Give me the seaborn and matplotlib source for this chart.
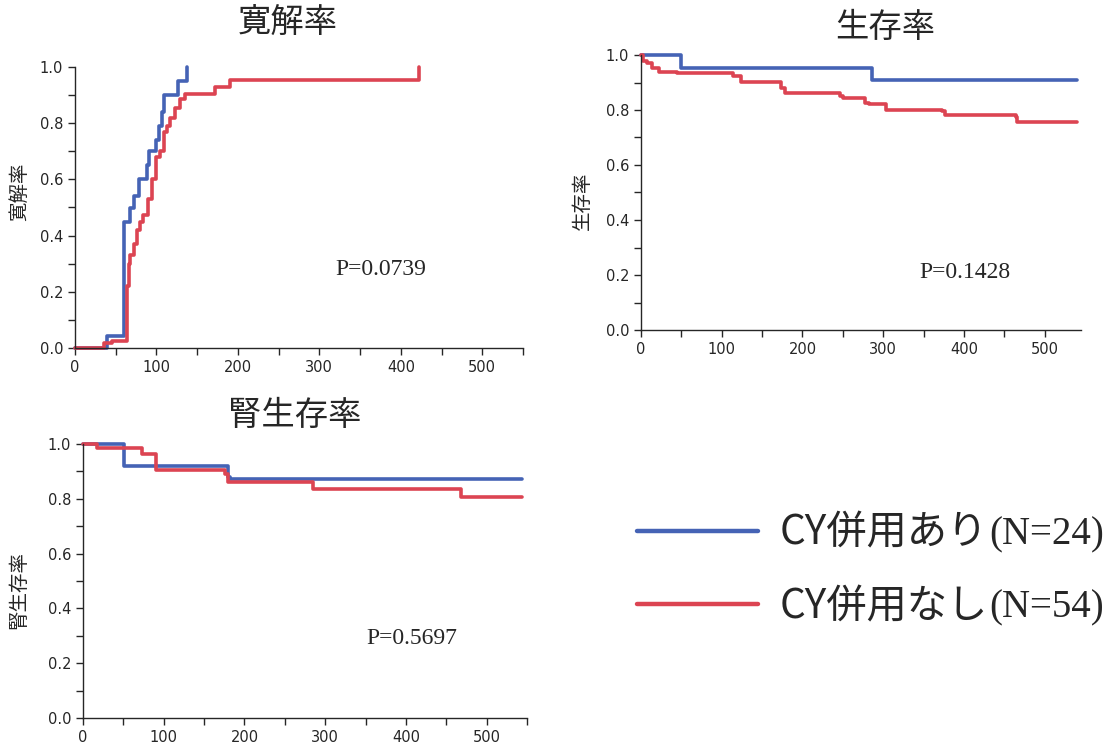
import numpy as np
import pandas as pd
import matplotlib
matplotlib.use("Agg")
import matplotlib.pyplot as plt
from matplotlib.ticker import MultipleLocator, FixedLocator
import seaborn as sns

# ---------------- data ----------------
groups = ["CY併用あり", "CY併用なし"]
group_n = ["(N=24)", "(N=54)"]

rem_blue_t = [0, 39, 60, 68, 73, 78, 89, 91, 100, 103, 107, 109, 127, 137]
rem_blue_v = [0, 0.042, 0.45, 0.50, 0.54, 0.60, 0.65, 0.70, 0.74, 0.79, 0.84, 0.90, 0.95, 1.0]
rem_red_t = [0, 35, 45, 64, 66, 68, 72, 76, 80, 84, 90, 94, 100, 104, 109, 113, 117, 123, 129,
             135, 172, 190, 422]
rem_red_v = [0, 0.019, 0.025, 0.22, 0.30, 0.33, 0.37, 0.42, 0.45, 0.475, 0.53, 0.60, 0.68, 0.70,
             0.77, 0.79, 0.82, 0.855, 0.885, 0.905, 0.93, 0.955, 1.0]

surv_blue_t = [0, 50, 286, 540]
surv_blue_v = [1.0, 0.952, 0.91, 0.91]
surv_red_t = [0, 3, 8, 14, 22, 45, 114, 124, 174, 178, 246, 250, 277, 282, 304, 373, 377, 464, 466, 540]
surv_red_v = [1.0, 0.98, 0.97, 0.952, 0.94, 0.935, 0.923, 0.902, 0.88, 0.863, 0.851, 0.842, 0.827,
              0.821, 0.80, 0.797, 0.782, 0.774, 0.756, 0.756]

kid_blue_t = [0, 51, 179, 182, 544]
kid_blue_v = [1.0, 0.918, 0.88, 0.872, 0.872]
kid_red_t = [0, 17, 73, 90, 176, 179, 285, 468, 544]
kid_red_v = [1.0, 0.984, 0.964, 0.906, 0.89, 0.862, 0.837, 0.807, 0.807]

titles = ["寛解率", "生存率", "腎生存率"]
p_texts = ["P=0.0739", "P=0.1428", "P=0.5697"]
p_pos = [(376, 0.278), (401, 0.21), (407, 0.29)]
x_ticks = [0, 100, 200, 300, 400, 500]
y_ticks = [0.0, 0.2, 0.4, 0.6, 0.8, 1.0]

colors = ["#4563b5", "#dc4452"]

# ---------------- style ----------------
sns.set_style("ticks")
plt.rcParams["font.family"] = ["DejaVu Sans", "Noto Sans CJK JP"]
cjk = ["Noto Sans CJK JP", "DejaVu Sans"]
ink = "#262626"

W, H = 1110, 752
fig = plt.figure(figsize=(W / 100, H / 100), dpi=100)

def px_axes(left, right, top, bottom):
    return fig.add_axes([left / W, 1 - bottom / H, (right - left) / W, (bottom - top) / H])

panels = [
    # ax, xmax, data..., title centre px, ylabel coords (axes fraction)
    (px_axes(75, 523, 67, 348), 550, rem_blue_t, rem_blue_v, rem_red_t, rem_red_v,
     (288, 22), (-0.100, 0.555)),
    (px_axes(641, 1081, 55, 330), 545, surv_blue_t, surv_blue_v, surv_red_t, surv_red_v,
     (885, 28), (-0.109, 0.47)),
    (px_axes(83, 527, 444, 718), 550, kid_blue_t, kid_blue_v, kid_red_t, kid_red_v,
     (295, 415), (-0.121, 0.467)),
]

line_handles = None
for i, (ax, xmax, bt, bv, rt, rv, tpos, lpos) in enumerate(panels):
    df = pd.DataFrame({
        "t": bt + rt,
        "v": bv + rv,
        "g": [groups[0]] * len(bt) + [groups[1]] * len(rt),
    })
    sns.lineplot(data=df, x="t", y="v", hue="g", palette=colors, hue_order=groups,
                 estimator=None, sort=False, drawstyle="steps-post", linewidth=2.6,
                 ax=ax, legend=False)
    for ln in ax.lines:
        ln.set_clip_on(False)
    ax.set_xlim(0, xmax)
    ax.set_ylim(0, 1.0)
    for s in ["top", "right"]:
        ax.spines[s].set_visible(False)
    for s in ["left", "bottom"]:
        ax.spines[s].set_linewidth(1.0)
        ax.spines[s].set_color(ink)
    ax.xaxis.set_major_locator(FixedLocator(x_ticks))
    ax.xaxis.set_minor_locator(MultipleLocator(50))
    ax.yaxis.set_major_locator(FixedLocator(y_ticks))
    ax.yaxis.set_minor_locator(MultipleLocator(0.1))
    ax.set_yticklabels([f"{v:.1f}" for v in y_ticks])
    ax.tick_params(which="both", direction="out", length=5, width=1.0, color=ink,
                   labelsize=10.5, labelcolor=ink)
    ax.set_xlabel("")
    ax.set_ylabel(titles[i], family=cjk, fontsize=14, color=ink)
    ax.yaxis.set_label_coords(*lpos)
    ax.text(p_pos[i][0], p_pos[i][1], p_texts[i], family="Liberation Serif", fontsize=17,
            ha="center", va="center", color=ink)
    fig.text(tpos[0] / W, 1 - tpos[1] / H, titles[i], family=cjk, fontsize=24,
             ha="center", va="center", color=ink)
    if line_handles is None:
        line_handles = list(ax.lines)

leg = fig.legend(line_handles, groups, loc="center left",
                 bbox_to_anchor=(637 / W, 1 - 570 / H), frameon=False,
                 prop={"family": cjk, "size": 29}, handlelength=3.0, handletextpad=0.55,
                 labelspacing=0.8, borderpad=0, borderaxespad=0)
for ln in leg.get_lines():
    ln.set_linewidth(3.2)
for t in leg.get_texts():
    t.set_color(ink)

fig.canvas.draw()
renderer = fig.canvas.get_renderer()
for t, n in zip(leg.get_texts(), group_n):
    bb = t.get_window_extent(renderer)
    fig.text(bb.x1 / W + 0.001, (bb.y0 + bb.height * 0.47) / H, n,
             family="Liberation Serif", fontsize=28, ha="left", va="center", color=ink)

fig.savefig("out.png", dpi=100)
